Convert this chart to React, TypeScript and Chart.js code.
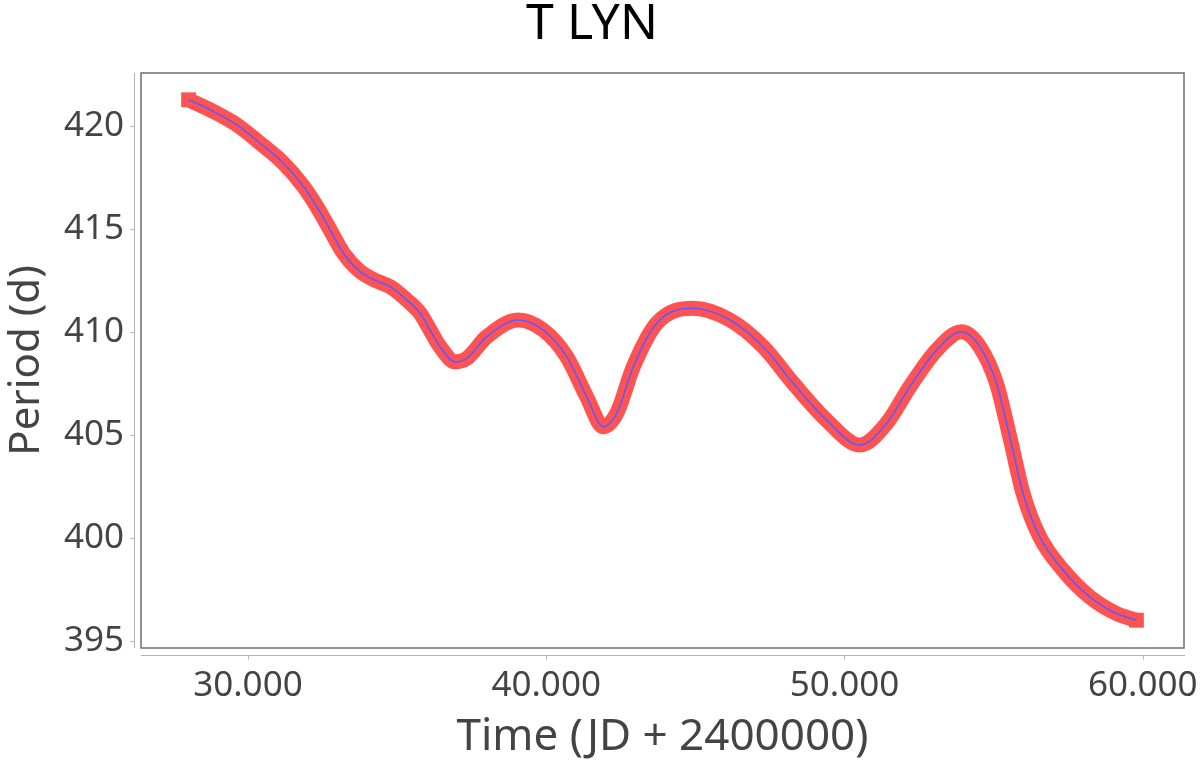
import { useEffect, useRef } from "react";
import { Chart, registerables } from "chart.js";

Chart.register(...registerables);

const chartTitle = "T LYN";
const xAxisTitle = "Time (JD + 2400000)";
const yAxisTitle = "Period (d)";

const timeJD = [
  28010, 28847, 29631, 30412, 31193, 31863, 32312, 32758, 33203, 33763, 34323,
  34768, 35328, 35774, 36109, 36443, 36946, 37338, 38008, 39068, 39905, 40689,
  41359, 41915, 42364, 42921, 43705, 44931, 46161, 47277, 48282, 49401, 50517,
  51412, 52192, 53087, 53924, 54538, 55097, 55543, 55989, 56548, 57329, 58224,
  59118, 59789,
];
const periodDays = [
  421.25, 420.68, 420.03, 419.14, 418.17, 417.04, 416.06, 414.93, 413.8, 412.91,
  412.45, 412.18, 411.53, 410.89, 410.07, 409.26, 408.53, 408.7, 409.75, 410.56,
  410.07, 408.78, 406.83, 405.38, 406.03, 408.29, 410.4, 411.13, 410.56, 409.26,
  407.49, 405.7, 404.49, 405.54, 407.32, 409.1, 409.99, 409.26, 407.49, 404.89,
  402.14, 400.03, 398.42, 397.12, 396.31, 395.99,
];
const xTickValues = [30000, 40000, 50000, 60000];
const yTickValues = [395, 400, 405, 410, 415, 420];

const fmtThousands = (v: number) =>
  Math.round(v)
    .toString()
    .replace(/\B(?=(\d{3})+(?!\d))/g, ".");

const offsetAxesPlugin = {
  id: "offsetAxes",
  afterDraw(chart: any) {
    const { ctx, chartArea } = chart;
    const { left, right, top, bottom } = chartArea;
    ctx.save();
    // plot box
    ctx.strokeStyle = "#6e6e6e";
    ctx.lineWidth = 1.5;
    ctx.strokeRect(left, top, right - left, bottom - top);
    // offset axes
    ctx.strokeStyle = "#b4b4b4";
    ctx.lineWidth = 1;
    const ax = Math.round(left) - 6.5;
    ctx.beginPath();
    ctx.moveTo(ax, top);
    ctx.lineTo(ax, bottom);
    const ys = chart.scales.y;
    for (const v of yTickValues) {
      const py = Math.round(ys.getPixelForValue(v)) + 0.5;
      ctx.moveTo(ax - 4, py);
      ctx.lineTo(ax, py);
    }
    const ay = Math.round(bottom) + 7.5;
    ctx.moveTo(left, ay);
    ctx.lineTo(right + 1, ay);
    const xs = chart.scales.x;
    for (const v of xTickValues) {
      const px = Math.round(xs.getPixelForValue(v)) + 0.5;
      ctx.moveTo(px, ay);
      ctx.lineTo(px, ay + 4);
    }
    ctx.stroke();
    ctx.restore();
  },
};

export default function App() {
  const ref = useRef<HTMLCanvasElement | null>(null);
  useEffect(() => {
    if (!ref.current) return;
    const pts = timeJD.map((x, i) => ({ x, y: periodDays[i] }));
    const last = pts.length - 1;
    const chart = new Chart(ref.current, {
      type: "line",
      data: {
        datasets: [
          {
            label: "fit",
            data: pts,
            borderColor: "#5b5bff",
            borderWidth: 1.6,
            pointRadius: 0,
            cubicInterpolationMode: "monotone",
            order: 0,
          },
          {
            label: "band",
            data: pts,
            borderColor: "#ff5252",
            borderWidth: 15,
            borderCapStyle: "butt",
            borderJoinStyle: "round",
            pointStyle: "rect",
            pointRadius: (c: any) => (c.dataIndex === 0 || c.dataIndex === last ? 10.5 : 0),
            pointBackgroundColor: "#ff5252",
            pointBorderWidth: 0,
            cubicInterpolationMode: "monotone",
            order: 1,
          },
        ],
      },
      options: {
        responsive: false,
        animation: false,
        events: [],
        layout: { padding: { left: 0, right: 16, top: 0, bottom: 0 } },
        plugins: {
          legend: { display: false },
          tooltip: { enabled: false },
          title: {
            display: true,
            text: chartTitle,
            color: "#000000",
            font: { family: "'Noto Sans', sans-serif", size: 50, weight: "normal", lineHeight: 1 },
            padding: { top: 0, bottom: 23 },
          },
        },
        scales: {
          x: {
            type: "linear",
            min: 26415,
            max: 61384,
            afterFit: (s: any) => {
              s.height = 116;
              s.paddingLeft = 0;
              s.paddingRight = 0;
            },
            afterBuildTicks: (s: any) => {
              s.ticks = xTickValues.map((value) => ({ value }));
            },
            grid: { display: false, drawTicks: false },
            border: { display: false },
            ticks: {
              color: "#444444",
              padding: 17,
              maxRotation: 0,
              font: { family: "'Noto Sans', sans-serif", size: 35 },
              callback: (v: any) => fmtThousands(Number(v)),
            },
            title: {
              display: true,
              text: xAxisTitle,
              color: "#444444",
              font: { family: "'Noto Sans', sans-serif", size: 44, lineHeight: 1 },
              padding: { top: 0, bottom: 5 },
            },
          },
          y: {
            type: "linear",
            min: 394.64,
            max: 422.55,
            afterFit: (s: any) => {
              s.width = 141;
              s.paddingTop = 0;
              s.paddingBottom = 0;
            },
            afterBuildTicks: (s: any) => {
              s.ticks = yTickValues.map((value) => ({ value }));
            },
            grid: { display: false, drawTicks: false },
            border: { display: false },
            ticks: {
              color: "#444444",
              padding: 17,
              font: { family: "'Noto Sans', sans-serif", size: 35 },
              callback: (v: any) => String(v),
            },
            title: {
              display: true,
              text: yAxisTitle,
              color: "#444444",
              font: { family: "'Noto Sans', sans-serif", size: 42, lineHeight: 1 },
              padding: { top: 6, bottom: 0 },
            },
          },
        },
      },
      plugins: [offsetAxesPlugin],
    });
    return () => chart.destroy();
  }, []);
  return (
    <div style={{ position: "fixed", left: 0, top: 0, width: 1200, height: 764, background: "#ffffff" }}>
      <canvas ref={ref} width={1200} height={764} style={{ display: "block" }} />
    </div>
  );
}
